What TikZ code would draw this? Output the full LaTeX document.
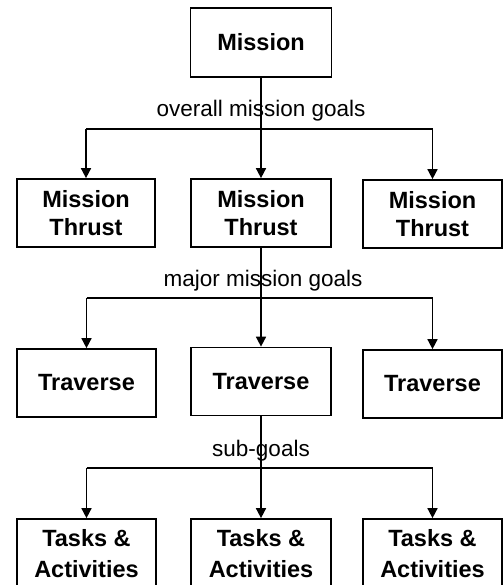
\documentclass[tikz,border=0pt]{standalone}
\usepackage{fontspec}
\setmainfont{Liberation Sans}
\usetikzlibrary{arrows.meta}

\tikzset{
  unit/.style={draw, line width=1.7pt, inner sep=0pt, align=center,
    font=\fontsize{23.5}{28}\selectfont\bfseries},
  goal/.style={anchor=base, inner sep=0pt, font=\fontsize{22.5}{26}\selectfont},
  link/.style={line width=1.6pt},
  feed/.style={line width=1.6pt, -{Triangle[length=10pt,width=10pt]}}
}

\begin{document}
\begin{tikzpicture}[x=1pt, y=-1pt]
  \useasboundingbox (0,0) rectangle (503,585);
  \clip (0,0) rectangle (503,585);

  % top level
  \node[unit, minimum width=141pt, minimum height=69pt] (mission) at (261,42.5) {Mission};

  % mission thrusts
  \node[unit, minimum width=138pt, minimum height=68pt] (thrustL) at (86,213) {Mission\\Thrust};
  \node[unit, minimum width=140pt, minimum height=68pt] (thrustC) at (261,213) {Mission\\Thrust};
  \node[unit, minimum width=139pt, minimum height=68pt] (thrustR) at (432.5,214) {Mission\\Thrust};

  % traverses
  \node[unit, minimum width=139pt, minimum height=68pt] (travL) at (86.5,383) {Traverse};
  \node[unit, minimum width=140pt, minimum height=68pt] (travC) at (261,381.5) {Traverse};
  \node[unit, minimum width=139pt, minimum height=68pt] (travR) at (432.5,384) {Traverse};

  % tasks and activities (run past the lower edge)
  \node[unit, minimum width=139pt, minimum height=70pt,
        font=\fontsize{23.5}{31}\selectfont\bfseries] (taskL) at (86.5,554) {Tasks \&\\Activities};
  \node[unit, minimum width=140pt, minimum height=70pt,
        font=\fontsize{23.5}{31}\selectfont\bfseries] (taskC) at (261,554) {Tasks \&\\Activities};
  \node[unit, minimum width=139pt, minimum height=70pt,
        font=\fontsize{23.5}{31}\selectfont\bfseries] (taskR) at (432.5,554) {Tasks \&\\Activities};

  % goal labels
  \node[goal] (g1) at (261,117) {overall mission goals};
  \node[goal] (g2) at (263,286) {major mission goals};
  \node[goal] (g3) at (261,456) {sub-goals};

  % distribution buses
  \coordinate (bus1) at (261,129);
  \coordinate (bus2) at (261,298);
  \coordinate (bus3) at (261,468);

  % mission -> thrusts
  \draw[feed] (mission.south) -- (thrustC.north);
  \draw[link] (bus1 -| thrustL.north) -- (bus1 -| thrustR.north);
  \draw[feed] (bus1 -| thrustL.north) -- (thrustL.north);
  \draw[feed] (bus1 -| thrustR.north) -- (thrustR.north);

  % thrust -> traverses
  \draw[feed] (thrustC.south) -- (travC.north);
  \draw[link] (bus2 -| travL.north) -- (bus2 -| travR.north);
  \draw[feed] (bus2 -| travL.north) -- (travL.north);
  \draw[feed] (bus2 -| travR.north) -- (travR.north);

  % traverse -> tasks
  \draw[feed] (travC.south) -- (taskC.north);
  \draw[link] (bus3 -| taskL.north) -- (bus3 -| taskR.north);
  \draw[feed] (bus3 -| taskL.north) -- (taskL.north);
  \draw[feed] (bus3 -| taskR.north) -- (taskR.north);
\end{tikzpicture}
\end{document}
